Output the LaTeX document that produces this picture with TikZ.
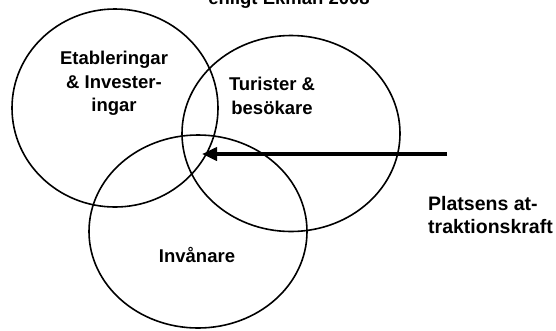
\documentclass[tikz,border=0pt]{standalone}
\usepackage{fontspec}
\setmainfont{Liberation Sans}
\usetikzlibrary{positioning,arrows.meta,shapes.geometric}

\begin{document}
\begin{tikzpicture}[
    x=1pt, y=-1pt,
    ring/.style={ellipse, draw=black, line width=1.6pt, inner sep=0pt},
    label text/.style={font=\bfseries\fontsize{18.5pt}{23.5pt}\selectfont, align=center, inner sep=0pt},
    force arrow/.style={line width=4.8pt, -{Triangle[length=15pt, width=13pt]}}
]
  \useasboundingbox (0,0) rectangle (556,330);
  \clip (0,0) rectangle (556,330);

  \node[label text, anchor=base] (title) at (289,4) {enligt Ekman 2008};

  \node[ring, minimum width=206pt, minimum height=198pt] (etab) at (115,108) {};
  \node[ring, minimum width=218pt, minimum height=196pt] (turist) at (291,133.5) {};
  \node[ring, minimum width=218pt, minimum height=193pt] (invan) at (198,231.5) {};

  \node[label text] (etabtext) at (114,83.5) {Etableringar\\ \& Invester-\\ ingar};
  \node[label text] (turisttext) at (272,96) {Turister \&\\ besökare};
  \node[label text] (invantext) at (197,255) {Invånare};
  \node[label text, font=\bfseries\fontsize{19.5pt}{23pt}\selectfont, align=left, anchor=west] (kraft) at (428,215.5) {Platsens at-\\ traktionskraft};

  \coordinate (kraftstart) at (447,154);
  \coordinate (mitt) at (202,154);
  \draw[force arrow] (kraftstart) -- (mitt);
\end{tikzpicture}
\end{document}
